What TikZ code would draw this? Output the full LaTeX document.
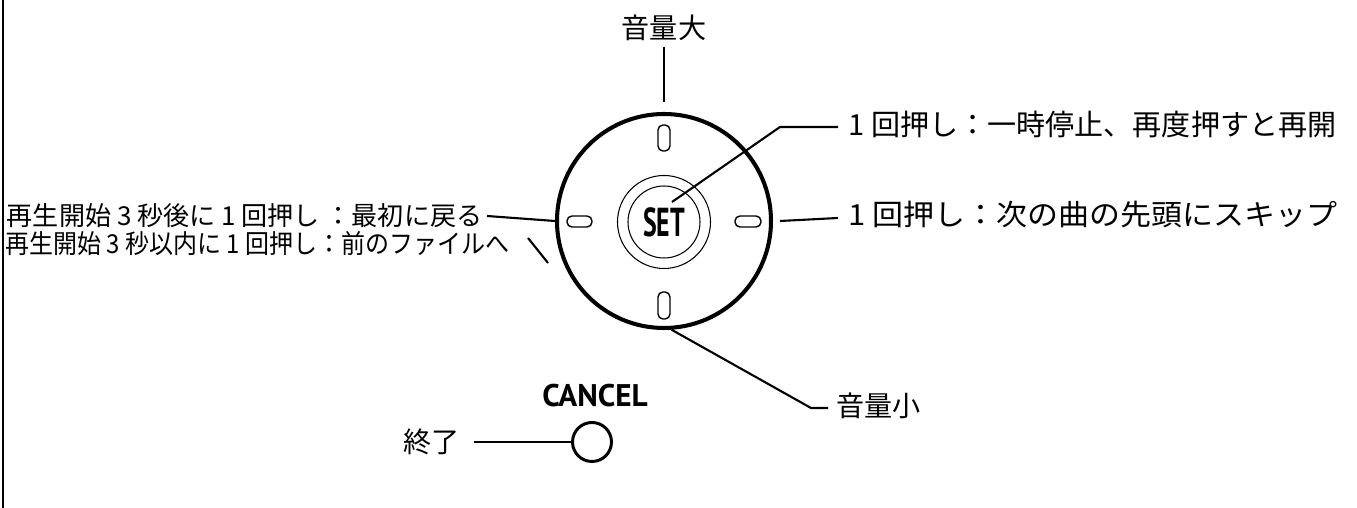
\documentclass[tikz,border=0pt]{standalone}
\usepackage{fontspec}
\setmainfont{Noto Sans CJK JP}
\newfontfamily\keyfont{PT Sans}
\usetikzlibrary{positioning}
\tikzset{
  lbl/.style={font=\fontsize{8pt}{9pt}\selectfont, inner sep=0pt},
  lblwide/.style={font=\fontsize{8.27pt}{9pt}\selectfont, inner sep=0pt},
  lblsmall/.style={font=\fontsize{7.42pt}{8pt}\selectfont, inner sep=0pt},
  wire/.style={line width=0.6pt},
  slot/.style={line width=0.4pt, rounded corners=0.5mm},
}

\begin{document}
\begin{tikzpicture}[x=0.1mm,y=-0.1mm]
\useasboundingbox (0,0) rectangle (1357,508);
\draw[line width=0.85pt] (3,0) -- (3,508);

% dial and keys
\node[circle, draw, line width=1.15pt, minimum size=21.4mm, inner sep=0pt] (dial) at (664,221) {};
\node[circle, draw, line width=0.3pt, minimum size=9.3mm, inner sep=0pt] (setring) at (664,222) {};
\node[circle, draw, line width=0.3pt, minimum size=7.2mm, inner sep=0pt, font=\keyfont\bfseries\fontsize{11.5pt}{12pt}\selectfont] (set) at (664,222) {\scalebox{0.64}[1]{SET}};
\draw[slot] (658,125) rectangle (670,151);
\draw[slot] (658,292) rectangle (670,319);
\draw[slot] (567,216) rectangle (592,227);
\draw[slot] (735,216) rectangle (761,227);

\node[circle, draw, line width=0.85pt, minimum size=3.9mm, inner sep=0pt] (cancel) at (592,442) {};
\node[font=\keyfont\bfseries\fontsize{8.9pt}{10pt}\selectfont, inner sep=0pt] (cancellbl) at (595,396) {CANCEL};

% labels
\node[lbl] (volup) at (664,28) {音量大};
\node[lblwide, anchor=west] (pause) at (848,124) {1 回押し：一時停止、再度押すと再開};
\node[lblwide, anchor=west] (skip) at (848,215) {\scalebox{1.066}[1]{1 回押し：次の曲の先頭にスキップ}};
\node[lblsmall, anchor=east] (restart) at (483,216) {再生開始 3 秒後に 1 回押し ：最初に戻る};
\node[lblsmall, anchor=east] (prev) at (510,244) {\scalebox{0.92}[1]{再生開始 3 秒以内に 1 回押し：前のファイルへ}};
\node[lbl, anchor=west] (voldown) at (836,406) {音量小};
\node[lbl, anchor=east] (quit) at (460,442) {終了};

% connectors
\coordinate (pausetip) at (672,202);
\coordinate (pausebend) at (780,127);
\coordinate (prevtip) at (548,263);
\coordinate (downbend) at (811,408);
\draw[wire] ([yshift=-0.5mm]volup.south) -- ([yshift=1mm]dial.north);
\draw[wire] (pausetip) -- (pausebend) -- ([xshift=-1mm,yshift=-0.3mm]pause.west);
\draw[wire] ([xshift=0.7mm]dial.east) -- ([xshift=-1mm,yshift=-0.3mm]skip.west);
\draw[wire] ([xshift=0.4mm]restart.east) -- (dial.west);
\draw[wire] ([xshift=1.8mm,yshift=0.6mm]prev.east) -- (prevtip);
\draw[wire] (dial.-86) -- (downbend) -- ([xshift=-0.8mm,yshift=-0.2mm]voldown.west);
\draw[wire] ([xshift=1.4mm]quit.east) -- (cancel.west);
\end{tikzpicture}
\end{document}
